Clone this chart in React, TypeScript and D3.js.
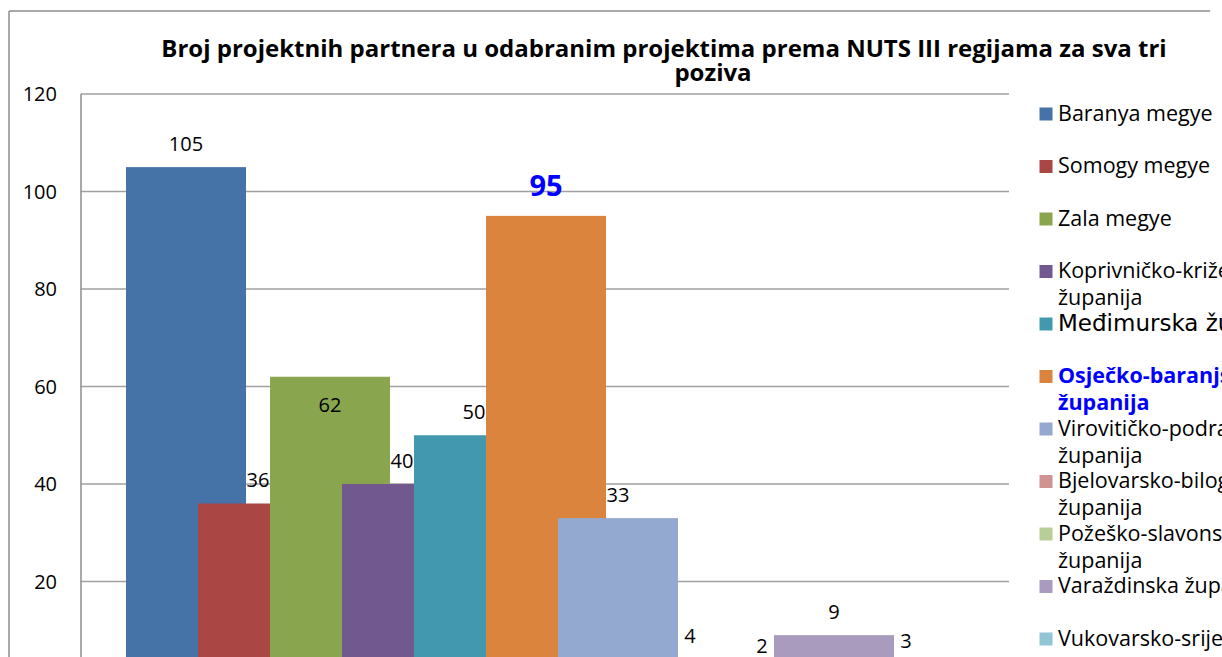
import React from 'react';
import * as d3 from 'd3';

const seriesNames = [
  'Baranya megye',
  'Somogy megye',
  'Zala megye',
  'Koprivničko-križevačka županija',
  'Međimurska županija',
  'Osječko-baranjska županija',
  'Virovitičko-podravska županija',
  'Bjelovarsko-bilogorska županija',
  'Požeško-slavonska županija',
  'Varaždinska županija',
  'Vukovarsko-srijemska županija',
];
const seriesValues = [105, 36, 62, 40, 50, 95, 33, 4, 2, 9, 3];
const seriesColors = [
  '#4572A7', '#AA4643', '#89A54E', '#71588F', '#4198AF', '#DB843D',
  '#93A9CF', '#D19392', '#B9CD96', '#A99BBD', '#92C5D5',
];
const legendLines = [
  ['Baranya megye'],
  ['Somogy megye'],
  ['Zala megye'],
  ['Koprivničko-križevačka', 'županija'],
  ['Međimurska županija'],
  ['Osječko-baranjska', 'županija'],
  ['Virovitičko-podravska', 'županija'],
  ['Bjelovarsko-bilogorska', 'županija'],
  ['Požeško-slavonska', 'županija'],
  ['Varaždinska županija'],
  ['Vukovarsko-srijemska', 'županija'],
];
const yTicks = [20, 40, 60, 80, 100, 120];
const titleLines = [
  'Broj projektnih partnera u odabranim projektima prema NUTS III regijama za sva tri',
  'poziva',
];

const FONT = "'Open Sans', Lato, sans-serif";

export default function App() {
  const W = 1222;
  const H = 657;
  const plot = { left: 81, right: 1009, top: 94, bottom: 679 };
  const y = d3.scaleLinear().domain([0, 120]).range([plot.bottom, plot.top]);
  const barW = 120;
  const step = 72;
  const n = seriesValues.length;
  const groupW = (n - 1) * step + barW;
  const cx = (plot.left + plot.right) / 2;
  const x = d3
    .scaleLinear()
    .domain([0, n - 1])
    .range([cx - groupW / 2 + 1, cx - groupW / 2 + 1 + (n - 1) * step]);

  const legendY = d3.scaleLinear().domain([0, n - 1]).range([114, 114 + (n - 1) * 52.5]);

  return (
    <svg
      width={W}
      height={H}
      style={{ position: 'absolute', left: 0, top: 0, background: '#fff' }}
      fontFamily={FONT}
    >
      <rect x={0} y={0} width={W} height={H} fill="#fff" />
      {/* outer border */}
      <line x1={9} y1={11} x2={1210} y2={11} stroke="#8c8c8c" strokeWidth={1.5} />
      <line x1={9} y1={11} x2={9} y2={H} stroke="#8c8c8c" strokeWidth={1.5} />

      {/* title */}
      <text x={664} y={57} textAnchor="middle" fontWeight="bold" fontSize={24} fill="#000">
        {titleLines[0]}
      </text>
      <text x={713} y={81} textAnchor="middle" fontWeight="bold" fontSize={24} fill="#000">
        {titleLines[1]}
      </text>

      {/* gridlines */}
      {yTicks.map((t) => (
        <line
          key={t}
          x1={plot.left}
          x2={plot.right}
          y1={y(t)}
          y2={y(t)}
          stroke="#a0a0a0"
          strokeWidth={1.5}
        />
      ))}
      <line x1={plot.left} x2={plot.left} y1={plot.top} y2={plot.bottom} stroke="#8c8c8c" strokeWidth={1.5} />
      {yTicks.map((t) => (
        <text key={t} x={57} y={y(t)} dy="0.35em" textAnchor="end" fontSize={20} fill="#000">
          {t}
        </text>
      ))}

      {/* bars */}
      {seriesValues.map((v, i) => (
        <rect
          key={i}
          x={x(i)}
          y={y(v)}
          width={barW}
          height={y(0) - y(v)}
          fill={seriesColors[i]}
        />
      ))}

      {/* labels */}
      {seriesValues.map((v, i) => {
        const isOsj = i === 5;
        const isZala = i === 2;
        const ly = isZala ? y(v) + 35 : isOsj ? y(v) - 20 : y(v) - 16.5;
        return (
          <text
            key={i}
            x={x(i) + barW / 2}
            y={ly}
            textAnchor="middle"
            fontSize={isOsj ? 29 : 20}
            fontWeight={isOsj ? 'bold' : 'normal'}
            fill={isOsj ? '#0000ff' : '#000'}
          >
            {v}
          </text>
        );
      })}

      {/* legend */}
      {legendLines.map((lines, i) => {
        const cy = legendY(i);
        const isOsj = i === 5;
        const isMed = i === 4;
        return (
          <g key={i}>
            <rect x={1039.5} y={cy - 6.5} width={13} height={13} fill={seriesColors[i]} />
            {lines.map((ln, j) => (
              <text
                key={j}
                x={1058}
                y={cy + 6.5 + j * 27}
                fontSize={isMed ? 23 : 21.5}
                fontFamily={isMed ? "'DejaVu Sans', Arial, sans-serif" : FONT}
                fontWeight={isOsj ? 'bold' : 'normal'}
                fill={isOsj ? '#0000ff' : '#000'}
              >
                {ln}
              </text>
            ))}
          </g>
        );
      })}
    </svg>
  );
}
